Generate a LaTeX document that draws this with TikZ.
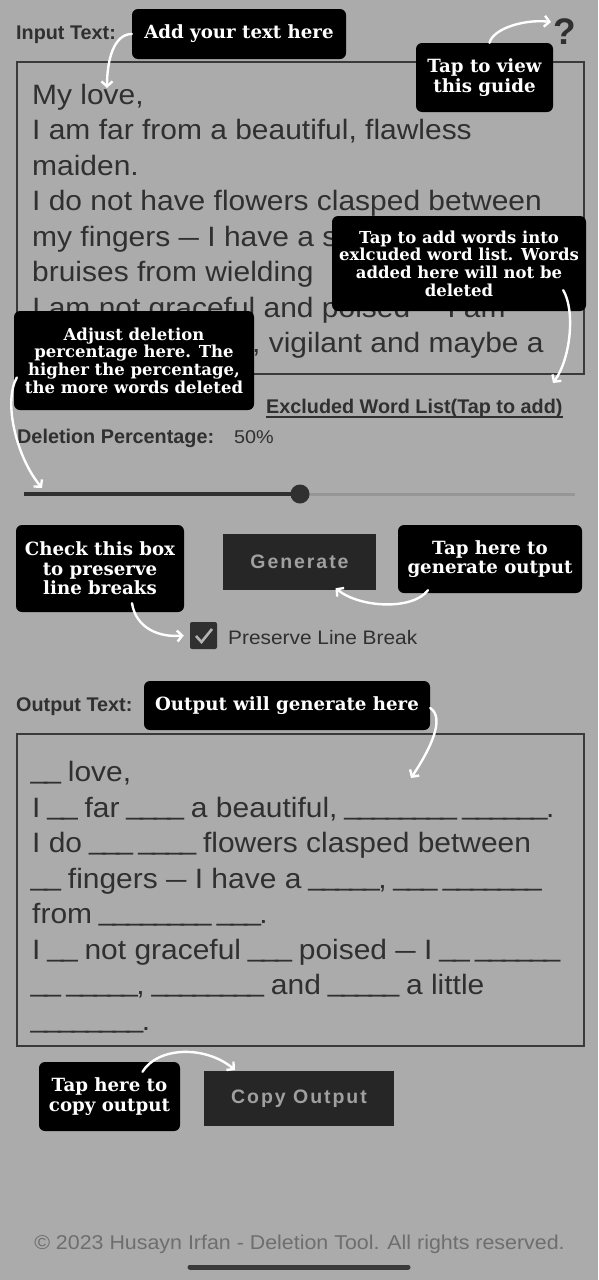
\documentclass[tikz,border=0pt]{standalone}
\usepackage{fontspec}
\setmainfont{Liberation Sans}
\newfontfamily\uifont[FakeStretch=1.07]{Liberation Sans}
\newfontfamily\uibfont{Liberation Sans}
\newfontfamily\callfont{DejaVu Serif}
\newfontfamily\btnfont[LetterSpace=10]{Liberation Sans}
\usetikzlibrary{arrows.meta,calc}
\definecolor{bg}{RGB}{171,171,171}
\definecolor{ink}{RGB}{48,48,48}
\definecolor{boxline}{RGB}{58,58,58}
\definecolor{btnfill}{RGB}{38,38,38}
\definecolor{btntext}{RGB}{160,160,160}
\definecolor{foot}{RGB}{110,110,110}
\definecolor{track}{RGB}{150,150,150}
\definecolor{homebar}{RGB}{58,58,58}
\definecolor{tick}{RGB}{180,180,180}
\newcommand\us{\makebox[13.7pt][c]{\raisebox{3pt}{\_}}}
\newcommand\dsh{\scalebox{0.68}[1]{—}}
\ExplSyntaxOn
\NewDocumentCommand\bl{m}{\prg_replicate:nn{#1}{\us}}
\ExplSyntaxOff
\begin{document}
\begin{tikzpicture}[x=1pt,y=-1pt,
  callout/.style={fill=black, text=white, rounded corners=6pt, align=center, inner sep=0pt,
    font=\callfont\bfseries\fontsize{18.2}{19.5}\selectfont},
  callsmall/.style={callout, font=\callfont\bfseries\fontsize{16.5}{17.6}\selectfont},
  arr/.style={draw=white, line width=2.4pt, line cap=round, -{Straight Barb[length=5pt,width=11pt]}},
  lbl/.style={anchor=base west, inner sep=0pt, text=ink, font=\uibfont\bfseries\fontsize{19.8}{22}\selectfont},
  body/.style={anchor=base west, inner sep=0pt, text=ink, font=\uifont\fontsize{28}{35}\selectfont},
  small/.style={anchor=base west, inner sep=0pt, text=ink, font=\uifont\fontsize{19.5}{22}\selectfont},
  btn/.style={fill=btnfill, text=btntext, inner sep=0pt, font=\btnfont\bfseries\fontsize{19.5}{22}\selectfont},
  field/.style={draw=boxline, line width=1.5pt, inner sep=0pt, anchor=north west}
]
% background
\fill[bg] (0,0) rectangle (598,1280);
\useasboundingbox (0,0) rectangle (598,1280);

% ---------- input section ----------
\node[lbl] (inlabel) at (16,39) {Input Text:};
\node[inner sep=0pt, text=ink, font=\uibfont\bfseries\fontsize{37}{40}\selectfont] (qmark) at (564.5,32) {?};
\node[field, minimum width=567pt, minimum height=312pt] (inbox) at (16,61) {};
\node[body] (in1) at (32,104) {My love,};
\node[body] (in2) at (32,139.5) {I am far from a beautiful, flawless};
\node[body] (in3) at (32,175) {maiden.};
\node[body] (in4) at (32,210.5) {I do not have flowers clasped between};
\node[body] (in5) at (32,246) {my fingers \dsh{} I have a s};
\node[body] (in6) at (32,281.5) {bruises from wielding};
\node[body] (in7) at (32,317) {I am not graceful and poised \dsh{} I am};
\node[body] (in8) at (252,352.5) {, vigilant and maybe a};

\node[lbl] (excl) at (266,413) {Excluded Word List(Tap to add)};
\draw[ink, line width=1.5pt] ([yshift=-4pt]excl.base west) -- ([yshift=-4pt]excl.base east);
\node[lbl] (dellabel) at (17,443) {Deletion Percentage:};
\node[small, font=\uifont\fontsize{18.5}{22}\selectfont] (pct) at (234,443) {50\%};

% slider
\coordinate (s0) at (24,494);
\coordinate (s1) at (575,494);
\coordinate (sk) at (300,494);
\draw[track, line width=3pt] (sk) -- (s1);
\draw[ink, line width=4pt] (s0) -- (sk);
\node[circle, fill=ink, minimum size=19pt, inner sep=0pt] (thumb) at (sk) {};

% generate button & checkbox
\node[btn, minimum width=153pt, minimum height=56pt] (gen) at (299.5,562) {Generate};
\node[fill=ink, rounded corners=2pt, minimum size=27pt, inner sep=0pt] (cbox) at (203.5,635.5) {};
\draw[tick, line width=2.6pt] ($(cbox.center)+(-7.5,0.5)$) -- ($(cbox.center)+(-2,6.5)$) -- ($(cbox.center)+(8.5,-6.5)$);
\node[small, font=\uifont\fontsize{19.5}{22}\selectfont] (plb) at (228,644.5) {Preserve Line Break};

% ---------- output section ----------
\node[lbl] (outlabel) at (16,711) {Output Text:};
\node[field, minimum width=567pt, minimum height=312pt] (outbox) at (16,733) {};
\node[body] (o1) at (32,781.5) {\bl{2} love,};
\node[body] (o2) at (32,817) {I \bl{2} far \bl{4} a beautiful, \bl{8} \bl{6}.};
\node[body] (o3) at (32,852.5) {I do \bl{3} \bl{4} flowers clasped between};
\node[body] (o4) at (32,888) {\bl{2} fingers \dsh{} I have a \bl{5}, \bl{3} \bl{7}};
\node[body] (o5) at (32,923.5) {from \bl{8} \bl{3}.};
\node[body] (o6) at (32,959) {I \bl{2} not graceful \bl{3} poised \dsh{} I \bl{2} \bl{6}};
\node[body] (o7) at (32,994.5) {\bl{2} \bl{5}, \bl{8} and \bl{5} a little};
\node[body] (o8) at (32,1030) {\bl{8}.};

\node[btn, minimum width=190pt, minimum height=55pt] (copybtn) at (299,1098.5) {Copy Output};

% footer
\node[inner sep=0pt, anchor=base, text=foot, font=\uifont\fontsize{20}{24}\selectfont] (footer) at (299.5,1249) {© 2023 Husayn Irfan - Deletion Tool. All rights reserved.};
\coordinate (hb0) at (190,1267);
\coordinate (hb1) at (408,1267);
\draw[homebar, line width=5pt, line cap=round] (hb0) -- (hb1);

% ---------- callouts ----------
\node[callout, minimum width=214pt, minimum height=50pt] (addtext) at (239,34) {Add your text here};
\node[callout, minimum width=137pt, minimum height=69pt] (guide) at (484.5,77.5) {Tap to view\\this guide};
\node[callsmall, minimum width=254pt, minimum height=95pt] (words) at (459,263.5) {Tap to add words into\\exlcuded word list. Words\\added here will not be\\deleted};
\node[callsmall, minimum width=240pt, minimum height=99pt] (adjust) at (134,360.5) {Adjust deletion\\percentage here. The\\higher the percentage,\\the more words deleted};
\node[callout, minimum width=168pt, minimum height=87pt] (check) at (100,568.5) {Check this box\\to preserve\\line breaks};
\node[callout, minimum width=184pt, minimum height=68pt] (genout) at (490,559) {Tap here to\\generate output};
\node[callout, minimum width=286pt, minimum height=49pt] (outtip) at (287,705.5) {Output will generate here};
\node[callout, minimum width=141pt, minimum height=69pt] (copytip) at (109.5,1096.5) {Tap here to\\copy output};

% ---------- arrows ----------
\coordinate (t1) at (107,88);
\coordinate (t2) at (551,22);
\coordinate (t3) at (553,383);
\coordinate (t4) at (42,488);
\coordinate (t7) at (411,778);
\coordinate (t8) at (235,1070);
\draw[arr] (addtext.west) .. controls +(-18,0) and +(0,-28) .. (t1);
\draw[arr] ([xshift=5pt]guide.north) .. controls +(4,-15) and +(-25,-3) .. (t2);
\draw[arr] ([xshift=-23pt,yshift=21pt]words.south east) .. controls +(12,20) and +(18,-25) .. (t3);
\draw[arr] ([xshift=3pt,yshift=-17pt]adjust.west) .. controls +(-14,25) and +(-25,-30) .. (t4);
\draw[arr] ([xshift=32pt,yshift=9pt]check.south) .. controls +(4,25) and +(-25,2) .. ([xshift=-6pt]cbox.west);
\draw[arr] ([xshift=-62pt,yshift=3pt]genout.south) .. controls +(-15,20) and +(25,20) .. ([xshift=36pt,yshift=2pt]gen.south);
\draw[arr] ([yshift=-2.5pt]outtip.east) .. controls +(15,10) and +(20,-30) .. (t7);
\draw[arr] ([xshift=33pt,yshift=-10pt]copytip.north) .. controls +(15,-25) and +(-30,-25) .. (t8);
\end{tikzpicture}
\end{document}
